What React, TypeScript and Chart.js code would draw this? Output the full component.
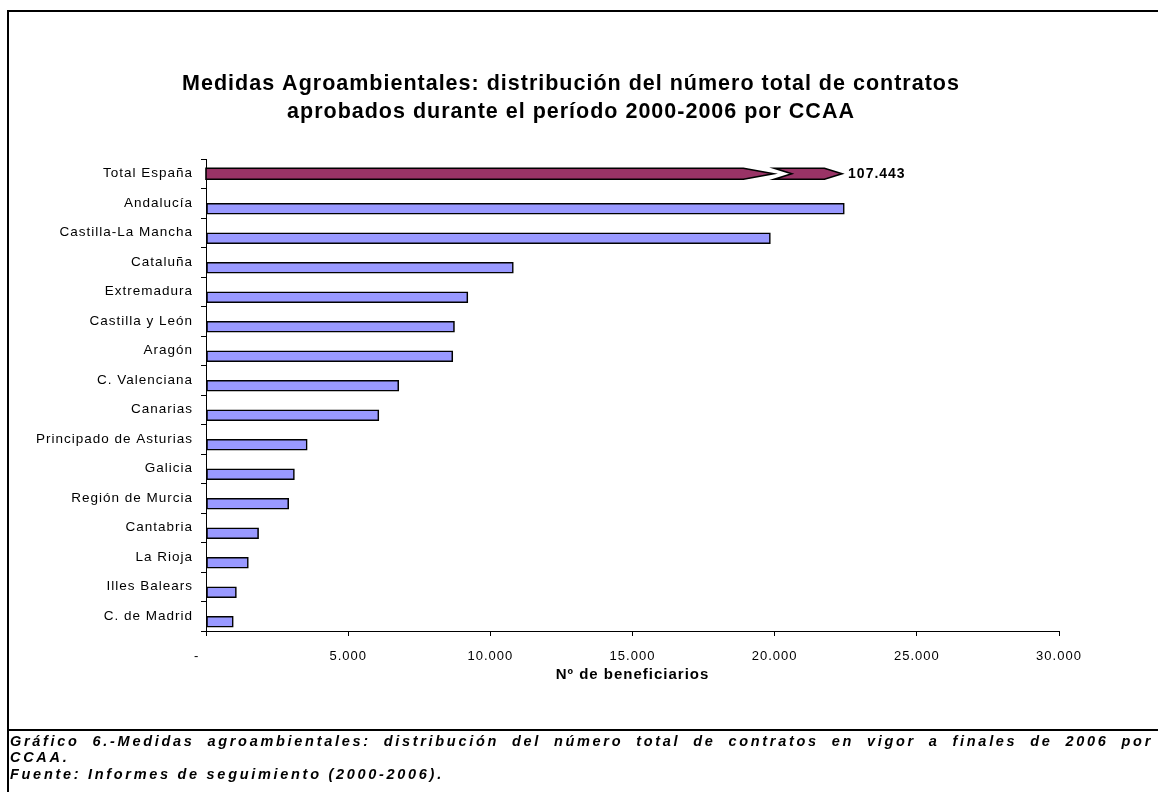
import React, { useEffect, useRef } from "react";
import { Chart, registerables } from "chart.js";

Chart.register(...registerables);

const CATEGORIES = [
  "Total España",
  "Andalucía",
  "Castilla-La Mancha",
  "Cataluña",
  "Extremadura",
  "Castilla y León",
  "Aragón",
  "C. Valenciana",
  "Canarias",
  "Principado de Asturias",
  "Galicia",
  "Región de Murcia",
  "Cantabria",
  "La Rioja",
  "Illes Balears",
  "C. de Madrid",
];

const TOTAL_ESPANA = 107443;
const TOTAL_VALUES = [TOTAL_ESPANA, null, null, null, null, null, null, null, null, null, null, null, null, null, null, null];
const REGION_VALUES = [null, 22450, 19850, 10810, 9210, 8740, 8680, 6780, 6080, 3560, 3110, 2910, 1850, 1490, 1070, 960];
const EMPTY_VALUES = CATEGORIES.map(() => null);

const X_MIN = 0;
const X_MAX = 30000;
const X_STEP = 5000;

const TITLE_LINES = [
  "Medidas Agroambientales: distribución del número total de contratos",
  "aprobados durante el período 2000-2006 por CCAA",
];
const X_TITLE = "Nº de beneficiarios";

const FOOT_LINE_1 =
  "Gráfico 6.-Medidas agroambientales: distribución del número total de contratos en vigor a finales de 2006 por";
const FOOT_LINE_2 = "CCAA.";
const FOOT_LINE_3 = "Fuente: Informes de seguimiento (2000-2006).";

const FONT = '"Liberation Sans", Arial, sans-serif';

function fmtThousands(n: number): string {
  if (n === 0) return "-    ";
  return String(n).replace(/\B(?=(\d{3})+(?!\d))/g, ".");
}

// Broken-bar geometry for "Total España" in axis units
const BREAK_A = 18900;
const BREAK_TIP = 19960;
const BREAK_B = 19990;
const BREAK_NOTCH = 20600;
const BREAK_C = 21750;
const BREAK_END = 22370;

const spacingPlugin = {
  id: "spacing",
  beforeUpdate(chart: any) {
    chart.ctx.letterSpacing = "1px";
  },
  beforeDraw(chart: any) {
    chart.ctx.letterSpacing = "1px";
  },
};

const brokenBarPlugin = {
  id: "brokenBar",
  afterDatasetsDraw(chart: any) {
    const meta = chart.getDatasetMeta(2);
    const el = meta.data[0];
    if (!el) return;
    const { y, height } = el.getProps(["y", "height"], true);
    const xs = chart.scales.x;
    const px = (v: number) => xs.getPixelForValue(v);
    const top = y - height / 2;
    const bot = y + height / 2;
    const ctx = chart.ctx;
    ctx.save();
    ctx.fillStyle = "#993366";
    ctx.strokeStyle = "#000";
    ctx.lineWidth = 1.6;
    ctx.lineJoin = "miter";
    ctx.beginPath();
    ctx.moveTo(px(0), top);
    ctx.lineTo(px(BREAK_A), top);
    ctx.lineTo(px(BREAK_TIP), y);
    ctx.lineTo(px(BREAK_A), bot);
    ctx.lineTo(px(0), bot);
    ctx.closePath();
    ctx.fill();
    ctx.stroke();
    ctx.beginPath();
    ctx.moveTo(px(BREAK_B), top);
    ctx.lineTo(px(BREAK_C), top);
    ctx.lineTo(px(BREAK_END), y);
    ctx.lineTo(px(BREAK_C), bot);
    ctx.lineTo(px(BREAK_B), bot);
    ctx.lineTo(px(BREAK_NOTCH), y);
    ctx.closePath();
    ctx.fill();
    ctx.stroke();
    ctx.fillStyle = "#000";
    ctx.font = `bold 14px ${FONT}`;
    ctx.textAlign = "left";
    ctx.textBaseline = "middle";
    ctx.fillText(fmtThousands(TOTAL_VALUES[0] as number), px(BREAK_END) + 6, y);
    ctx.restore();
  },
};

function ChartCanvas() {
  const ref = useRef<HTMLCanvasElement | null>(null);
  useEffect(() => {
    if (!ref.current) return;
    const chart = new Chart(ref.current, {
      type: "bar",
      data: {
        labels: CATEGORIES,
        datasets: [
          {
            label: "",
            data: EMPTY_VALUES,
            barThickness: 11,
            backgroundColor: "rgba(0,0,0,0)",
          },
          {
            label: "CCAA",
            data: REGION_VALUES,
            barThickness: 11,
            backgroundColor: "#9999FF",
            borderColor: "#000",
            borderWidth: 1.6,
            borderSkipped: false,
          },
          {
            label: "Total España",
            data: TOTAL_VALUES,
            grouped: false,
            maxBarThickness: 11,
            backgroundColor: "rgba(0,0,0,0)",
            borderWidth: 0,
          },
        ] as any,
      },
      options: {
        indexAxis: "y",
        animation: false,
        responsive: false,
        maintainAspectRatio: false,
        events: [],
        layout: { padding: { left: 20, right: 36, top: 0, bottom: 0 } },
        plugins: {
          legend: { display: false },
          tooltip: { enabled: false },
          title: {
            display: true,
            text: TITLE_LINES,
            color: "#000",
            font: { family: FONT, size: 21.5, weight: "bold", lineHeight: 28 / 21.5 },
            padding: { top: 70.4, bottom: 32.6 },
          },
        },
        scales: {
          x: {
            type: "linear",
            min: X_MIN,
            max: X_MAX,
            position: "bottom",
            afterFit(scale: any) {
              scale.height = 99;
            },
            ticks: {
              stepSize: X_STEP,
              color: "#000",
              padding: 13,
              font: { family: FONT, size: 13 },
              callback: (v: any) => fmtThousands(Number(v)),
              maxRotation: 0,
              autoSkip: false,
            },
            grid: {
              display: true,
              drawOnChartArea: false,
              drawTicks: true,
              tickLength: 5,
              color: "#000",
            },
            border: { display: true, color: "#000", width: 1 },
            title: {
              display: true,
              text: X_TITLE,
              color: "#000",
              font: { family: FONT, size: 15, weight: "bold", lineHeight: 1.2 },
              padding: { top: 0, bottom: 46 },
            },
          },
          y: {
            type: "category",
            afterFit(scale: any) {
              scale.width = 186;
            },
            ticks: {
              color: "#000",
              padding: 8,
              font: { family: FONT, size: 13.5 },
              autoSkip: false,
            },
            grid: {
              display: true,
              offset: true,
              drawOnChartArea: false,
              drawTicks: true,
              tickLength: 5,
              color: "#000",
            },
            border: { display: true, color: "#000", width: 1 },
          },
          yRight: {
            type: "linear",
            position: "right",
            display: true,
            afterFit(scale: any) {
              scale.width = 63;
            },
            ticks: { display: false },
            grid: { display: false, drawTicks: false },
            border: { display: false },
          },
        },
      } as any,
      plugins: [spacingPlugin, brokenBarPlugin],
    });
    return () => chart.destroy();
  }, []);
  return <canvas ref={ref} width={1158} height={730} style={{ display: "block" }} />;
}

export default function App() {
  const footStyle: React.CSSProperties = {
    position: "absolute",
    left: 10,
    width: 1143,
    fontFamily: FONT,
    fontStyle: "italic",
    fontWeight: "bold",
    fontSize: 14.5,
    letterSpacing: "2.7px",
    lineHeight: "16px",
    color: "#000",
    whiteSpace: "nowrap",
  };
  return (
    <div
      style={{
        position: "fixed",
        left: 0,
        top: 0,
        width: 1158,
        height: 792,
        background: "#fff",
        overflow: "hidden",
      }}
    >
      <div style={{ position: "absolute", left: 0, top: 0 }}>
        <ChartCanvas />
      </div>
      <div style={{ position: "absolute", left: 7, top: 10, width: 1151, height: 2, background: "#000" }} />
      <div style={{ position: "absolute", left: 7, top: 10, width: 2, height: 782, background: "#000" }} />
      <div style={{ position: "absolute", left: 7, top: 729, width: 1151, height: 2, background: "#000" }} />
      <div
        style={{
          ...footStyle,
          top: 733,
          whiteSpace: "normal",
          textAlign: "justify",
          textAlignLast: "justify",
        }}
      >
        {FOOT_LINE_1}
      </div>
      <div style={{ ...footStyle, top: 749 }}>{FOOT_LINE_2}</div>
      <div style={{ ...footStyle, top: 766 }}>{FOOT_LINE_3}</div>
    </div>
  );
}
